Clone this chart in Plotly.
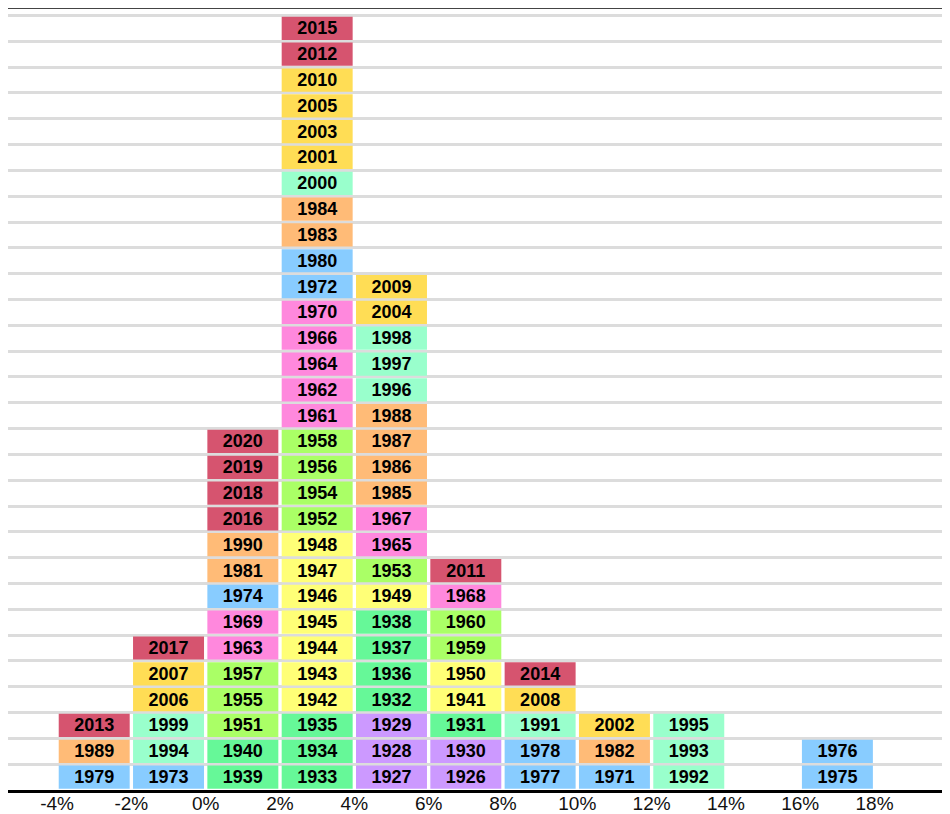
import plotly.graph_objects as go

# Annual return bins (centre of each 2% bucket) and the years that fell in each,
# listed bottom to top.
bin_centers = [-3, -1, 1, 3, 5, 7, 9, 11, 13, 17]
years_by_bin = [
    [1979, 1989, 2013],
    [1973, 1994, 1999, 2006, 2007, 2017],
    [1939, 1940, 1951, 1955, 1957, 1963, 1969, 1974, 1981, 1990, 2016, 2018, 2019, 2020],
    [1933, 1934, 1935, 1942, 1943, 1944, 1945, 1946, 1947, 1948, 1952, 1954, 1956, 1958,
     1961, 1962, 1964, 1966, 1970, 1972, 1980, 1983, 1984, 2000, 2001, 2003, 2005, 2010,
     2012, 2015],
    [1927, 1928, 1929, 1932, 1936, 1937, 1938, 1949, 1953, 1965, 1967, 1985, 1986, 1987,
     1988, 1996, 1997, 1998, 2004, 2009],
    [1926, 1930, 1931, 1941, 1950, 1959, 1960, 1968, 2011],
    [1977, 1978, 1991, 2008, 2014],
    [1971, 1982, 2002],
    [1992, 1993, 1995],
    [1975, 1976],
]

tick_values = [-4, -2, 0, 2, 4, 6, 8, 10, 12, 14, 16, 18]
tick_labels = ["-4%", "-2%", "0%", "2%", "4%", "6%", "8%", "10%", "12%", "14%", "16%", "18%"]

# decade groups: 1926-1930, 1931-1940, ... 2011-2020
decade_keys = [192, 193, 194, 195, 196, 197, 198, 199, 200, 201]
decade_colors = ["#cc99ff", "#66f898", "#ffff77", "#aaff66", "#ff88dd",
                 "#88ccff", "#ffbb77", "#99ffcc", "#ffdd55", "#d6546f"]

FONT = "Arial, Liberation Sans, sans-serif"

cells = {k: {"x": [], "base": [], "text": []} for k in decade_keys}
for center, years in zip(bin_centers, years_by_bin):
    for row, year in enumerate(years):
        key = (year - 1) // 10
        cells[key]["x"].append(center)
        cells[key]["base"].append(row + 0.05)
        cells[key]["text"].append(str(year))

fig = go.Figure()
for key, color in zip(decade_keys, decade_colors):
    c = cells[key]
    fig.add_trace(
        go.Bar(
            x=c["x"],
            y=[0.9] * len(c["x"]),
            base=c["base"],
            text=c["text"],
            width=1.91,
            marker=dict(color=color, line=dict(width=0)),
            textposition="inside",
            insidetextanchor="middle",
            textangle=0,
            constraintext="none",
            textfont=dict(family=FONT, size=18, color="black", weight="bold"),
            showlegend=False,
            hoverinfo="text",
        )
    )

# the page body adds an 8px offset, so the figure is 8px smaller each way
fig.update_layout(
    barmode="overlay",
    width=942,
    height=806,
    margin=dict(l=0, r=0, t=0, b=24),
    plot_bgcolor="white",
    paper_bgcolor="white",
    font=dict(family=FONT),
    shapes=[
        dict(type="line", xref="paper", yref="paper", x0=0, x1=1, y0=1, y1=1,
             line=dict(color="#444444", width=2)),
    ],
)

fig.update_xaxes(
    range=[-5.32, 20.03],
    tickvals=tick_values,
    ticktext=tick_labels,
    tickfont=dict(family=FONT, size=19, color="#111111"),
    ticklabelstandoff=-6,
    showgrid=False,
    zeroline=False,
    showline=True,
    linecolor="black",
    linewidth=3,
    ticks="",
    automargin=False,
    fixedrange=True,
)
fig.update_yaxes(
    range=[0, 30.29],
    dtick=1,
    tick0=0,
    showticklabels=False,
    showgrid=True,
    gridcolor="#dcdcdc",
    gridwidth=3,
    zeroline=False,
    ticks="",
    automargin=False,
    fixedrange=True,
)

fig.write_html("out.html")
